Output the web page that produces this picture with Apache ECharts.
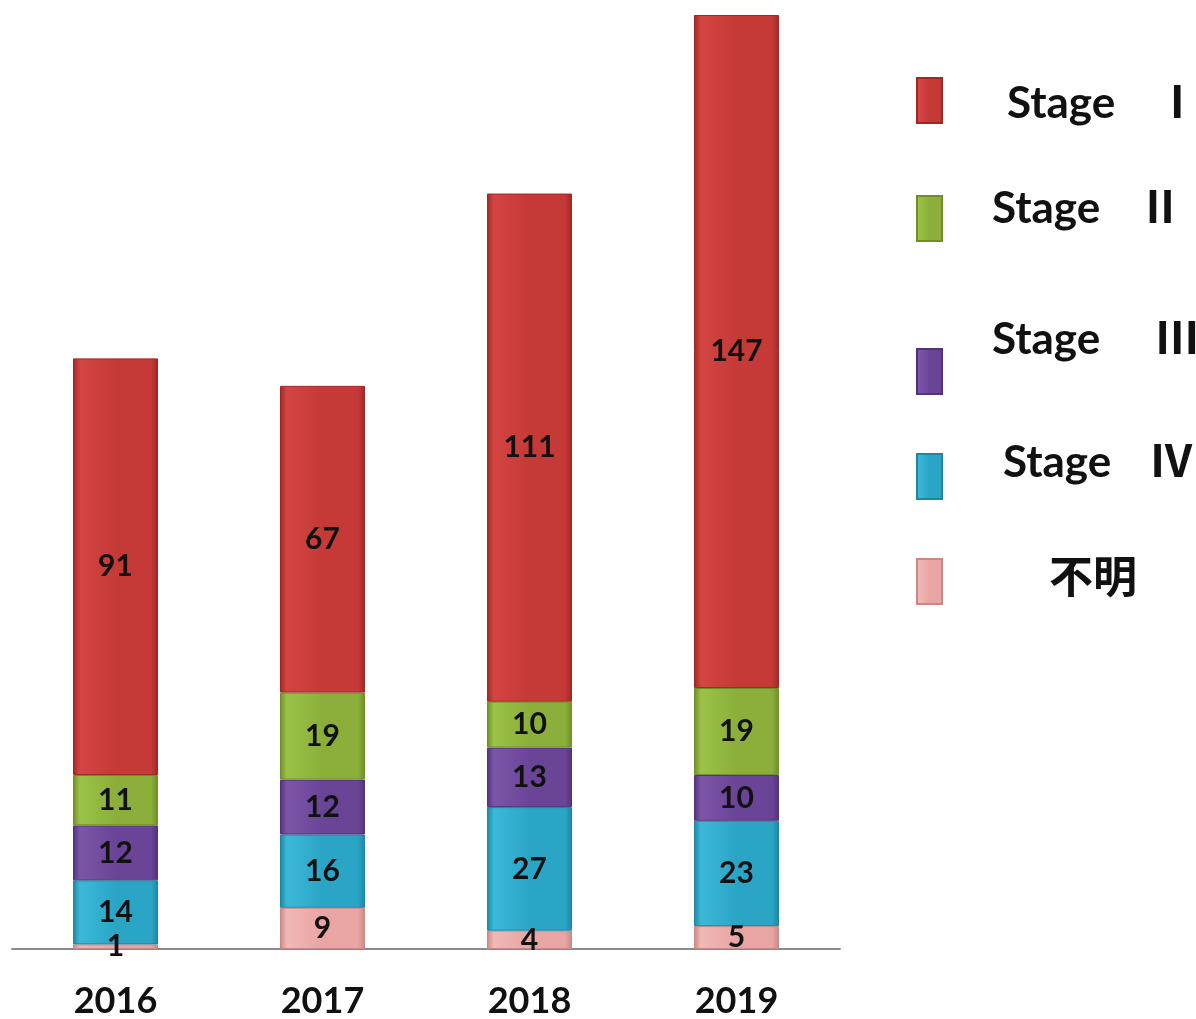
<!DOCTYPE html>
<html>
<head>
<meta charset="utf-8">
<script src="https://cdn.jsdelivr.net/npm/echarts@6/dist/echarts.min.js"></script>
<style>
html,body{margin:0;padding:0;background:#fff;}
#chart{width:1196px;height:1019px;}
</style>
</head>
<body>
<div id="chart"></div>
<script>
const years = ['2016', '2017', '2018', '2019'];
const seriesNames = ['不明', 'Stage Ⅳ', 'Stage Ⅲ', 'Stage Ⅱ', 'Stage Ⅰ'];
const unknown = [1, 9, 4, 5];
const stage4 = [14, 16, 27, 23];
const stage3 = [12, 12, 13, 10];
const stage2 = [11, 19, 10, 19];
const stage1 = [91, 67, 111, 147];

const FONT = 'Lato, "Noto Sans CJK JP", sans-serif';
const colors = [
  ['#f0b8b6', '#e9a5a3', '#c98886'],
  ['#3cb8d8', '#2aa5c5', '#1d86a2'],
  ['#7c55a8', '#6a4597', '#52327a'],
  ['#9cc248', '#8baf3a', '#6d8f25'],
  ['#d24542', '#c53937', '#9f2826']
];
const values = [unknown, stage4, stage3, stage2, stage1];

function grad(c) {
  return new echarts.graphic.LinearGradient(0, 0, 1, 0, [
    {offset: 0, color: c[2]},
    {offset: 0.08, color: c[0]},
    {offset: 0.5, color: c[1]},
    {offset: 0.92, color: c[1]},
    {offset: 1, color: c[2]}
  ]);
}

const series = seriesNames.map((n, i) => ({
  name: n,
  type: 'bar',
  stack: 'total',
  barWidth: 85,
  data: values[i],
  itemStyle: {color: grad(colors[i]), borderColor: colors[i][2], borderWidth: 1},
  label: {
    show: true,
    position: 'inside',
    color: '#111',
    fontSize: 30,
    fontWeight: 'bold',
    fontFamily: FONT
  }
}));

// legend layout (one legend per item to reproduce free placement)
const LH = 52;
const legendPos = [
  {name: 'Stage Ⅰ', marker: 82, pad: [6, 0, 0, 60], gap: 40},
  {name: 'Stage Ⅱ', marker: 200, pad: [0, 0, 20, 45], gap: 38},
  {name: 'Stage Ⅲ', marker: 353, pad: [0, 0, 64, 45], gap: 55},
  {name: 'Stage Ⅳ', marker: 458, pad: [0, 0, 28, 56], gap: 38},
  {name: '不明', marker: 563, pad: [0, 0, 6, 102], gap: 0}
];
const legends = legendPos.map(l => {
  const h = LH + l.pad[0] + l.pad[2];
  const ext = Math.max(0, h / 2 - 22.5);
  const base = {fontSize: 44, fontWeight: 'bold', color: '#111', fontFamily: FONT, lineHeight: LH};
  return {
    data: [l.name],
    left: 916,
    top: l.marker - ext,
    padding: 0,
    orient: 'vertical',
    icon: 'rect',
    itemWidth: 25,
    itemHeight: 45,
    selectedMode: false,
    formatter: function (name) {
      const parts = name.split(' ');
      if (parts.length < 2) return '{a|' + name + '}';
      return '{a|' + parts[0] + '}{b|' + parts[1] + '}';
    },
    textStyle: {
      rich: {
        a: Object.assign({}, base, {padding: l.pad}),
        b: Object.assign({}, base, {padding: [l.pad[0], 0, l.pad[2], l.gap]})
      }
    }
  };
});

const chart = echarts.init(document.getElementById('chart'));
chart.setOption({
  animation: false,
  backgroundColor: '#fff',
  color: colors.map(c => c[1]),
  grid: {left: 12, right: 356, top: 15, bottom: 70},
  legend: legends,
  xAxis: {
    type: 'category',
    data: years,
    axisLine: {lineStyle: {color: '#8a8a8a', width: 2}},
    axisTick: {show: false},
    axisLabel: {fontSize: 36, fontWeight: 'bold', color: '#111', fontFamily: FONT, margin: 34}
  },
  yAxis: {
    type: 'value',
    min: 0,
    max: 204,
    show: false,
    splitLine: {show: false}
  },
  series: series
});
</script>
</body>
</html>
